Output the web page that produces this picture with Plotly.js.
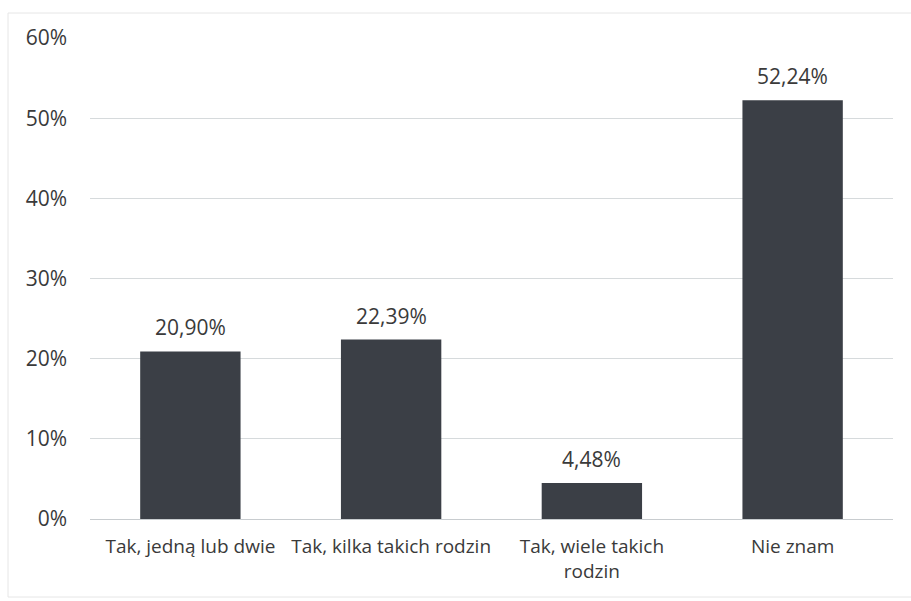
<!DOCTYPE html>
<html>
<head>
<meta charset="utf-8">
<script src="https://cdn.plot.ly/plotly-3.0.1.min.js"></script>
<style>html,body{margin:0;padding:0;background:#fff;}#chart{width:911px;height:601px;}</style>
</head>
<body>
<div id="chart"></div>
<script>
const categories = ["Tak, jedną lub dwie", "Tak, kilka takich rodzin", "Tak, wiele takich<br>rodzin", "Nie znam"];
const values = [20.90, 22.39, 4.48, 52.24];
const valueLabels = ["20,90%", "22,39%", "4,48%", "52,24%"];
const yTicks = [0, 10, 20, 30, 40, 50, 60];

const FONT = "Open Sans, Lato, sans-serif";
const TXT = "#3a3a3a";

const trace = {
  type: "bar",
  x: categories,
  y: values,
  width: 0.5,
  marker: {color: "#3b3f46", line: {width: 0}},
  hoverinfo: "none"
};

const annotations = categories.map((c, i) => ({
  x: c, y: values[i], xref: "x", yref: "y",
  text: valueLabels[i], showarrow: false,
  yanchor: "bottom", yshift: 8,
  font: {family: FONT, size: 21, color: TXT}
}));

const W = 911, H = 601, L = 90, R = 18, T = 38, B = 82;
const pw = W - L - R, ph = H - T - B;
const px = v => (v - L) / pw;
const py = v => (H - B - v) / ph;

const layout = {
  width: W, height: H,
  margin: {l: L, r: R, t: T, b: B},
  paper_bgcolor: "#ffffff",
  plot_bgcolor: "#ffffff",
  showlegend: false,
  font: {family: FONT, size: 19, color: TXT},
  xaxis: {
    type: "category",
    showgrid: false, zeroline: false, showline: false,
    ticks: "", ticklabelstandoff: 14,
    tickfont: {family: FONT, size: 19, color: TXT}
  },
  yaxis: {
    range: [0, 60], tickvals: yTicks,
    ticktext: yTicks.map(v => v + "%"),
    showgrid: true, gridcolor: "#d6dadc", gridwidth: 1,
    zeroline: true, zerolinecolor: "#c8cccf", zerolinewidth: 1,
    showline: false, ticks: "", ticklabelstandoff: 22,
    tickfont: {family: FONT, size: 21, color: TXT}
  },
  annotations: annotations,
  shapes: [{
    type: "rect", xref: "paper", yref: "paper", layer: "below",
    x0: px(8), x1: px(930), y0: py(597), y1: py(13),
    line: {color: "#e6e6e6", width: 1}, fillcolor: "rgba(0,0,0,0)"
  }]
};

Plotly.newPlot("chart", [trace], layout, {displayModeBar: false, staticPlot: true});
</script>
</body>
</html>
